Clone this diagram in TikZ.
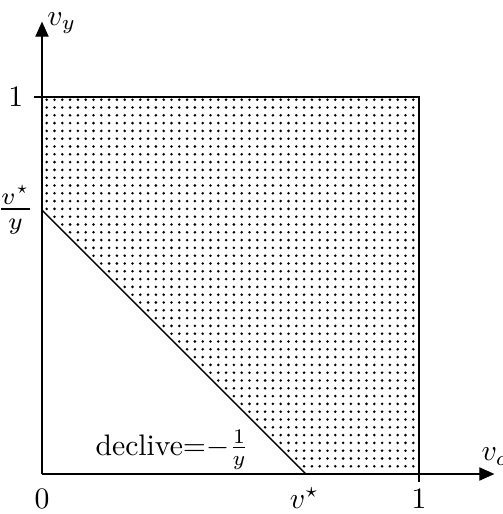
\documentclass[tikz,border=0pt]{standalone}
\usetikzlibrary{arrows.meta}
\begin{document}
\begin{tikzpicture}[x=5cm,y=5cm,
  axis/.style={line width=0.5pt,-{Triangle[width=5pt,length=5.7pt]}},
  edge/.style={line width=0.5pt},
  lbl/.style={inner sep=0pt,scale=1.12},
  dot/.style={fill=black}]
\useasboundingbox (-0.1114,-0.1061) rectangle (1.2228,1.2573);
% dotted region
\begin{scope}
\clip (0,0.7) -- (0,1) -- (1,1) -- (1,0) -- (0.7,0) -- cycle;
\foreach \i in {0,...,47}{
  \foreach \j in {0,...,47}{
    \fill[dot] ({(4.7+7.8*\i)/377},{1-(2.7+7.8*\j)/377}) circle (0.0038);
  }
}
\end{scope}
% coordinates
\coordinate (O) at (0,0);
\coordinate (X) at (1.2,0);
\coordinate (Y) at (0,1.2);
\coordinate (A) at (0,0.7);
\coordinate (B) at (0.7,0);
\coordinate (TL) at (-0.02,1);
\coordinate (TR) at (1,1);
\coordinate (BR) at (1,-0.02);
% axes
\draw[axis] (O) -- (X);
\draw[axis] (O) -- (Y);
% square edges with ticks
\draw[edge] (TL) -- (TR) -- (BR);
% slope line
\draw[edge] (A) -- (B);
% labels
\node[lbl,anchor=base west] (vy) at (0.013,1.191) {$v_y$};
\node[lbl,anchor=base west] (vo) at (1.1645,0.0345) {$v_o$};
\node[lbl,anchor=east] (one y) at (-0.048,1) {$1$};
\node[inner sep=0pt,scale=1.3,anchor=base east] (frac) at (-0.0186,0.680) {$\frac{v^\star}{y}$};
\node[lbl,anchor=base] (zero) at (0,-0.092) {$0$};
\node[lbl,anchor=base] (vstar) at (0.696,-0.092) {$v^\star$};
\node[lbl,anchor=base] (one x) at (1,-0.092) {$1$};
\node[lbl,anchor=base west] (decl) at (0.1406,0.0504) {declive=$-\frac{1}{y}$};
\end{tikzpicture}
\end{document}
